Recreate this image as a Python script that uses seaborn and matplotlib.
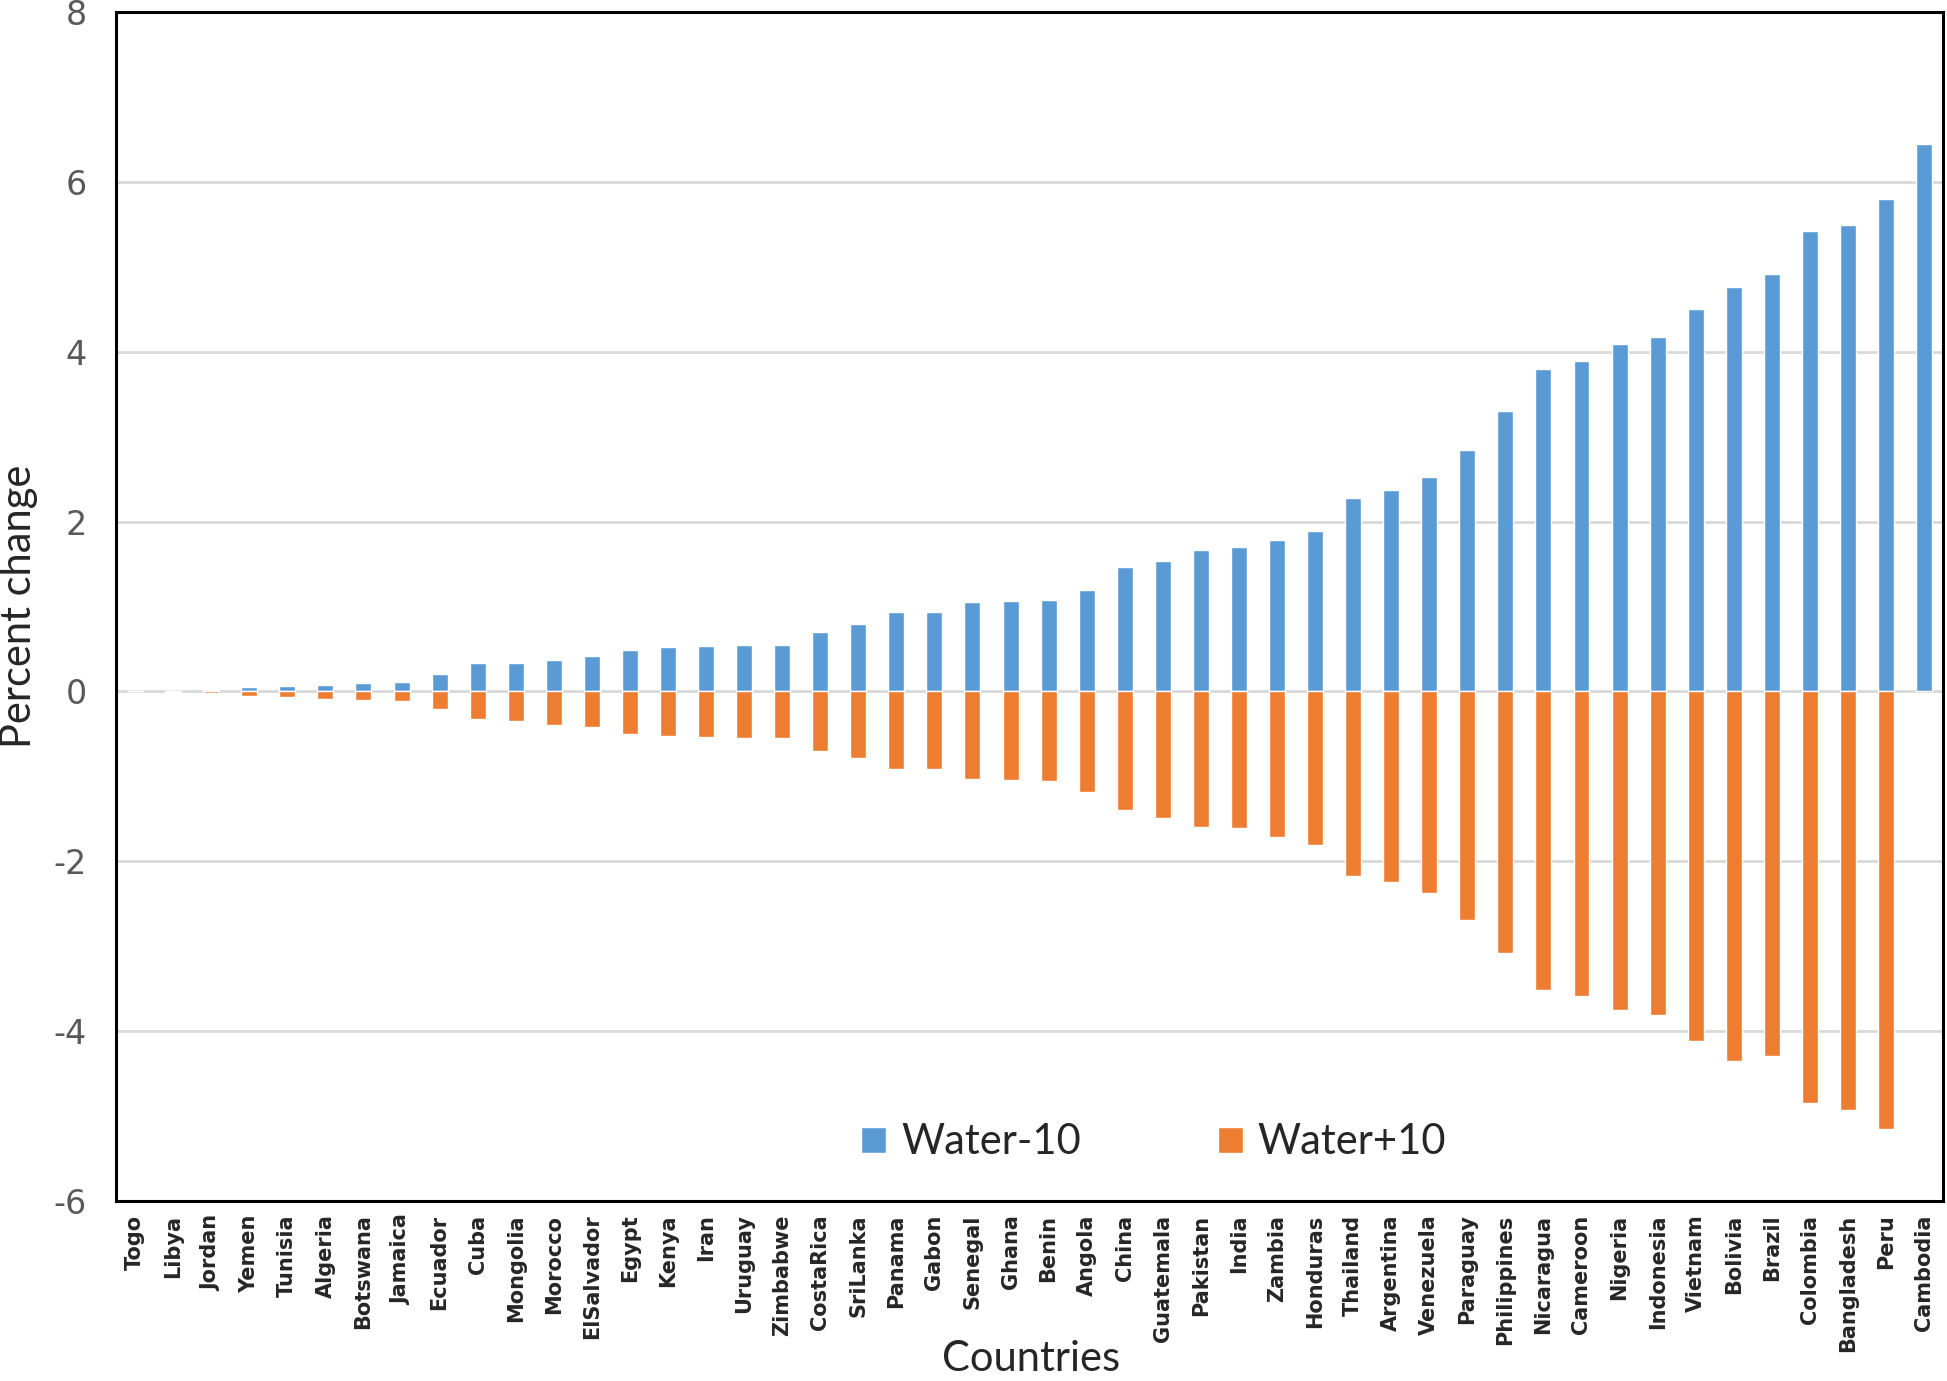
import numpy as np
import pandas as pd
import matplotlib
matplotlib.use("Agg")
import matplotlib.pyplot as plt
import seaborn as sns

countries = ["Togo", "Libya", "Jordan", "Yemen", "Tunisia", "Algeria", "Botswana", "Jamaica",
             "Ecuador", "Cuba", "Mongolia", "Morocco", "ElSalvador", "Egypt", "Kenya", "Iran",
             "Uruguay", "Zimbabwe", "CostaRica", "SriLanka", "Panama", "Gabon", "Senegal", "Ghana",
             "Benin", "Angola", "China", "Guatemala", "Pakistan", "India", "Zambia", "Honduras",
             "Thailand", "Argentina", "Venezuela", "Paraguay", "Philippines", "Nicaragua", "Cameroon",
             "Nigeria", "Indonesia", "Vietnam", "Bolivia", "Brazil", "Colombia", "Bangladesh",
             "Peru", "Cambodia"]

water_minus10 = [0.0, 0.01, 0.02, 0.05, 0.06, 0.08, 0.095, 0.11,
                 0.21, 0.33, 0.34, 0.37, 0.42, 0.49, 0.52, 0.54,
                 0.55, 0.55, 0.70, 0.79, 0.93, 0.93, 1.05, 1.06,
                 1.08, 1.20, 1.46, 1.54, 1.67, 1.70, 1.78, 1.89,
                 2.28, 2.37, 2.53, 2.85, 3.30, 3.80, 3.89,
                 4.09, 4.18, 4.51, 4.76, 4.92, 5.43, 5.49,
                 5.80, 6.45]

water_plus10 = [0.0, -0.01, -0.02, -0.06, -0.07, -0.085, -0.10, -0.11,
                -0.21, -0.33, -0.35, -0.39, -0.42, -0.50, -0.52, -0.54,
                -0.55, -0.55, -0.70, -0.79, -0.91, -0.91, -1.03, -1.04,
                -1.06, -1.18, -1.40, -1.49, -1.60, -1.61, -1.71, -1.81,
                -2.17, -2.25, -2.37, -2.69, -3.08, -3.52, -3.59,
                -3.75, -3.81, -4.12, -4.36, -4.29, -4.85, -4.93,
                -5.16, np.nan]

series_names = ["Water-10", "Water+10"]
colors = ["#5B9BD5", "#ED7D31"]

df = pd.DataFrame({
    "Country": countries * 2,
    "Series": [series_names[0]] * len(countries) + [series_names[1]] * len(countries),
    "Value": water_minus10 + water_plus10,
}).dropna()

sns.set_style("white")
plt.rcParams['font.family'] = ['DejaVu Sans']
plt.rcParams['axes.unicode_minus'] = False
title_font = ['Lato', 'DejaVu Sans']

fig = plt.figure(figsize=(19.47, 13.81), dpi=100)
ax = fig.add_axes([0.0596, 0.1306, 0.9384, 0.8604])

sns.barplot(data=df, x="Country", y="Value", hue="Series", order=countries,
            hue_order=series_names, palette=colors, dodge=False, width=0.42,
            errorbar=None, saturation=1, ax=ax, zorder=3)

ax.set_xlim(-0.5, len(countries) - 0.5)
ax.set_ylim(-6, 8)
ax.set_yticks(np.arange(-6, 9, 2))
ax.yaxis.grid(True, color="#d9d9d9", linewidth=2, zorder=0)
ax.set_axisbelow(True)

for s in ax.spines.values():
    s.set_visible(True)
    s.set_color("black")
    s.set_linewidth(2.2)

ax.tick_params(axis="y", length=0, pad=21, labelsize=24, labelcolor="#595959")
ax.tick_params(axis="x", length=0, pad=10, labelsize=15)
for lab in ax.get_xticklabels():
    lab.set_rotation(90)
    lab.set_fontweight("bold")
    lab.set_va("top")

ax.set_ylabel("Percent change", fontsize=30, family=title_font)
ax.yaxis.label.set_va("center")
ax.yaxis.set_label_coords(-0.0533, 0.5)
ax.set_xlabel("Countries", fontsize=30, family=title_font)
ax.xaxis.set_label_coords(0.5008, -0.117)

ax.legend(loc="center", bbox_to_anchor=(0.568, 0.049), ncol=2, frameon=False,
          prop={'family': title_font, 'size': 30}, handlelength=0.6, handleheight=0.6,
          handletextpad=0.35, columnspacing=3.3)

fig.savefig("out.png", dpi=100)
